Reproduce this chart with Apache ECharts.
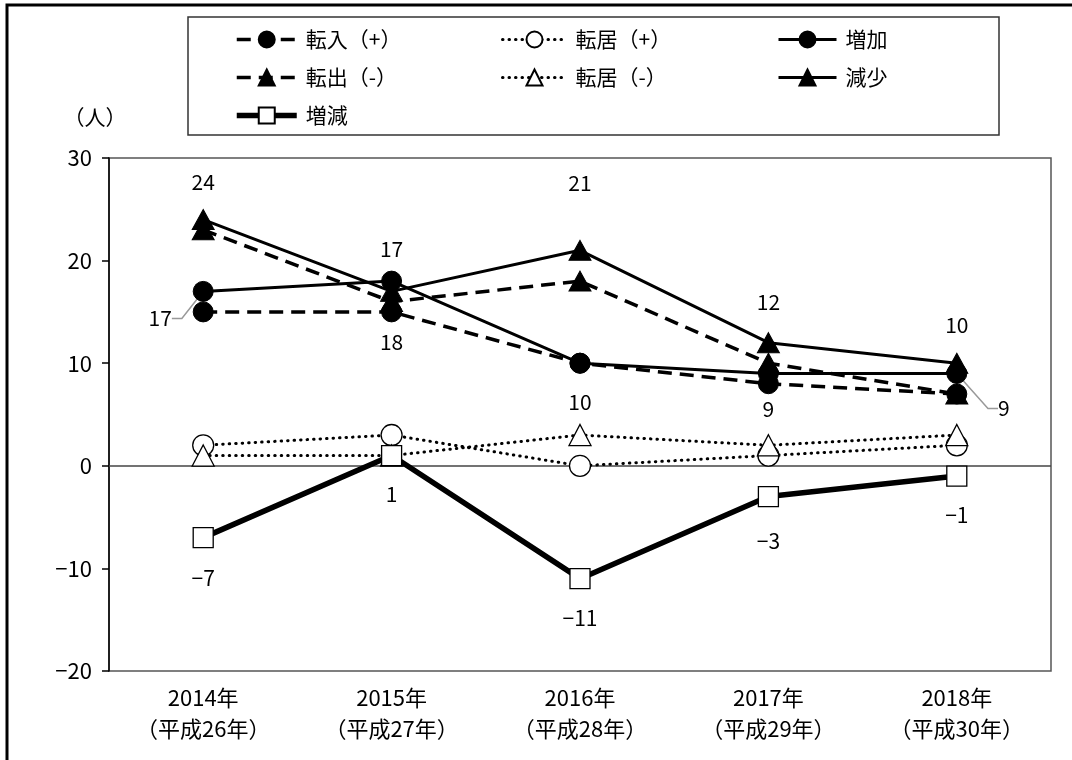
<!DOCTYPE html>
<html>
<head>
<meta charset="utf-8">
<script src="https://cdn.jsdelivr.net/npm/echarts@6/dist/echarts.min.js"></script>
<style>
  html, body { margin: 0; padding: 0; background: #fff; }
  #chart { width: 1072px; height: 760px; }
</style>
</head>
<body>
<div id="chart"></div>
<script>
// 年別の転入・転出・転居の推移（人）
const years = ['2014年', '2015年', '2016年', '2017年', '2018年'];
const eras = ['（平成26年）', '（平成27年）', '（平成28年）', '（平成29年）', '（平成30年）'];
const yTicks = [-20, -10, 0, 10, 20, 30];

const tennyu = [15, 15, 10, 8, 7];      // 転入（+）
const tenkyoPlus = [2, 3, 0, 1, 2];     // 転居（+）
const zouka = [17, 18, 10, 9, 9];       // 増加
const tenshutsu = [23, 16, 18, 10, 7];  // 転出（-）
const tenkyoMinus = [1, 1, 3, 2, 3];    // 転居（-）
const gensho = [24, 17, 21, 12, 10];    // 減少
const zougen = [-7, 1, -11, -3, -1];    // 増減

// ラベル位置（点からのずらし量 px）
const shiftZouka = [[-43, 27], [0, 61], [0, 39], [0, 36], [47, 35]];
const shiftGensho = [[0, -38], [0, -42], [0, -67], [0, -41], [0, -38]];
const shiftZougen = [[0, 40], [0, 38], [0, 39], [0, 44], [0, 39]];
const leaderIdx = [0, 4];

const FONT = '"Noto Sans CJK JP", "Noto Sans", sans-serif';
const BLACK = '#000';

const dashed = { color: BLACK, width: 3.5, type: [14, 8] };
const dotted = { color: BLACK, width: 3, type: [0.5, 6], cap: 'round' };
const solid = { color: BLACK, width: 3, type: 'solid' };
const filled = { color: BLACK, borderColor: BLACK, borderWidth: 1 };
const hollow = { color: '#fff', borderColor: BLACK, borderWidth: 1.3 };

// 負の値は全角風のマイナス記号で表示
function signed(v) {
  return String(v).replace('-', '\u2212');
}

const valueLabel = {
  show: true, position: 'inside', color: BLACK,
  fontFamily: FONT, fontSize: 21,
  formatter: function (p) { return signed(p.value); }
};

function shifted(shifts) {
  return function (params) {
    const s = shifts[params.dataIndex];
    return { dx: s[0], dy: s[1] };
  };
}

const zoukaData = zouka.map(function (v, i) {
  return leaderIdx.indexOf(i) >= 0
    ? { value: v, labelLine: { show: true } }
    : v;
});

const chart = echarts.init(document.getElementById('chart'), null, { renderer: 'canvas' });

const legendText = { color: BLACK, fontFamily: FONT, fontSize: 21, padding: [0, 0, 0, 4] };
const legendCommon = {
  orient: 'vertical', top: 24, itemHeight: 20, itemGap: 17,
  selectedMode: false, textStyle: legendText,
  lineStyle: { width: 'inherit', type: 'inherit', color: 'inherit' }
};

chart.setOption({
  backgroundColor: '#fff',
  animation: false,
  grid: { left: 109, right: 21, top: 158, bottom: 89, show: true, borderColor: '#555', borderWidth: 1.5, containLabel: false },
  legend: [
    Object.assign({ left: 229, itemWidth: 60, data: ['転入（+）', '転出（-）', '増減'] }, legendCommon),
    Object.assign({ left: 496, itemWidth: 64, data: ['転居（+）', '転居（-）'] }, legendCommon),
    Object.assign({ left: 772, itemWidth: 58, data: ['増加', '減少'] }, legendCommon)
  ],
  graphic: [
    { type: 'rect', shape: { x: 7, y: 5, width: 1200, height: 900 }, style: { fill: 'none', stroke: BLACK, lineWidth: 3 }, silent: true, z: 100 },
    { type: 'rect', shape: { x: 188, y: 17, width: 811, height: 118 }, style: { fill: 'none', stroke: '#333', lineWidth: 1.5 }, silent: true }
  ],
  xAxis: {
    type: 'category',
    data: years,
    boundaryGap: true,
    axisLine: { show: false, onZero: false },
    axisTick: { show: false },
    splitLine: { show: false },
    axisLabel: {
      color: BLACK, fontFamily: FONT, fontSize: 22, lineHeight: 31, margin: 11,
      formatter: function (v, i) { return v + '\n' + eras[i]; }
    }
  },
  yAxis: {
    type: 'value',
    min: yTicks[0], max: yTicks[yTicks.length - 1], interval: 10,
    name: '（人）',
    nameLocation: 'end',
    nameGap: 30,
    nameTextStyle: { color: BLACK, fontFamily: FONT, fontSize: 21, padding: [0, 28, 0, 0] },
    axisLine: { show: true, lineStyle: { color: BLACK, width: 1.5 } },
    axisTick: { show: true, length: 7, lineStyle: { color: BLACK, width: 1.5 } },
    splitLine: { show: false },
    axisLabel: { color: BLACK, fontFamily: FONT, fontSize: 22, margin: 17, formatter: signed }
  },
  series: [
    { name: '転入（+）', type: 'line', data: tennyu, symbol: 'circle', symbolSize: 20, lineStyle: dashed, itemStyle: filled },
    { name: '転居（+）', type: 'line', data: tenkyoPlus, symbol: 'circle', symbolSize: 21, lineStyle: dotted, itemStyle: hollow },
    {
      name: '増加', type: 'line', data: zoukaData, symbol: 'circle', symbolSize: 20, lineStyle: solid, itemStyle: filled,
      label: valueLabel,
      labelLine: { show: false, length2: 10, smooth: false, lineStyle: { color: '#999', width: 1.5 } },
      labelLayout: shifted(shiftZouka)
    },
    { name: '転出（-）', type: 'line', data: tenshutsu, symbol: 'triangle', symbolSize: [22, 20], lineStyle: dashed, itemStyle: filled },
    { name: '転居（-）', type: 'line', data: tenkyoMinus, symbol: 'triangle', symbolSize: [22, 21], lineStyle: dotted, itemStyle: hollow },
    {
      name: '減少', type: 'line', data: gensho, symbol: 'triangle', symbolSize: [22, 20], lineStyle: solid, itemStyle: filled,
      label: valueLabel, labelLayout: shifted(shiftGensho)
    },
    {
      name: '増減', type: 'line', data: zougen, symbol: 'rect', symbolSize: 20,
      lineStyle: { color: BLACK, width: 5.5, type: 'solid' }, itemStyle: hollow,
      label: valueLabel, labelLayout: shifted(shiftZougen),
      markLine: {
        silent: true, symbol: 'none', label: { show: false },
        lineStyle: { color: '#444', width: 1.5, type: 'solid' },
        data: [{ yAxis: 0 }], z: 1
      }
    }
  ]
});
</script>
</body>
</html>
